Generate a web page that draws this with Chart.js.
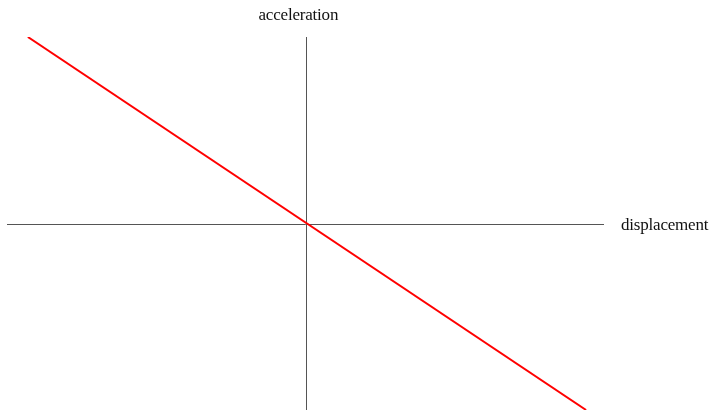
<!DOCTYPE html>
<html>
<head>
<meta charset="utf-8">
<script src="https://cdn.jsdelivr.net/npm/chart.js@4/dist/chart.umd.min.js"></script>
<style>
  html, body { margin: 0; padding: 0; background: #fff; }
  #wrap { width: 709px; height: 410px; position: relative; }
</style>
</head>
<body>
<div id="wrap"><canvas id="myChart"></canvas></div>
<script>
const xValues = [-0.93, 0.94];
const yValues = [1, -1];
const xTitle = "displacement";
const yTitle = "acceleration";

const axesPlugin = {
  id: "axesPlugin",
  beforeDatasetsDraw(chart) {
    const ctx = chart.ctx;
    const area = chart.chartArea;
    const x0 = Math.round(chart.scales.x.getPixelForValue(0)) + 0.5;
    const y0 = Math.round(chart.scales.y.getPixelForValue(0)) + 0.5;
    ctx.save();
    ctx.strokeStyle = "#555555";
    ctx.lineWidth = 1;
    ctx.beginPath();
    ctx.moveTo(area.left, y0);
    ctx.lineTo(area.right, y0);
    ctx.moveTo(x0, area.top);
    ctx.lineTo(x0, area.bottom);
    ctx.stroke();
    ctx.fillStyle = "#111111";
    ctx.font = "17px 'Liberation Serif'";
    ctx.letterSpacing = "-0.2px";
    ctx.textBaseline = "alphabetic";
    ctx.textAlign = "left";
    ctx.fillText(yTitle, x0 - 48, 20);
    ctx.fillText(xTitle, area.right + 17, y0 + 5);
    ctx.restore();
  },
};

new Chart("myChart", {
  type: "line",
  data: {
    datasets: [
      {
        data: xValues.map((x, i) => ({ x: x, y: yValues[i] })),
        borderColor: "#ff0000",
        borderWidth: 2,
        pointRadius: 0,
        fill: false,
        tension: 0,
      },
    ],
  },
  options: {
    responsive: true,
    maintainAspectRatio: false,
    animation: false,
    layout: { padding: { left: 7, right: 105, top: 37, bottom: 0 } },
    plugins: { legend: { display: false }, tooltip: { enabled: false } },
    scales: {
      x: { type: "linear", min: -1, max: 1, display: false },
      y: { type: "linear", min: -1, max: 1, display: false },
    },
  },
  plugins: [axesPlugin],
});
</script>
</body>
</html>
